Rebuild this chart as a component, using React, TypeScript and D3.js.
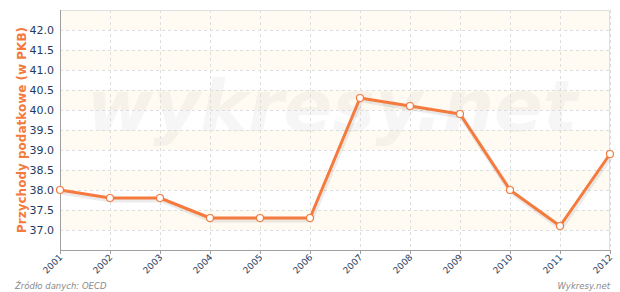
import React from "react";
import * as d3 from "d3";

const years = ["2001","2002","2003","2004","2005","2006","2007","2008","2009","2010","2011","2012"];
const values = [38.0, 37.8, 37.8, 37.3, 37.3, 37.3, 40.3, 40.1, 39.9, 38.0, 37.1, 38.9];
const yTicks = [37.0, 37.5, 38.0, 38.5, 39.0, 39.5, 40.0, 40.5, 41.0, 41.5, 42.0];
const yTitle = "Przychody podatkowe (w PKB)";
const source = "Źródło danych: OECD";
const brand = "Wykresy.net";
const watermark = "wykresy.net";

export default function App() {
  const W = 620, H = 292;
  const left = 60, right = 610, top = 10, bottom = 250;
  const x = d3.scalePoint<string>().domain(years).range([left, right]);
  const y = d3.scaleLinear().domain([36.5, 42.5]).range([bottom, top]);
  const line = d3.line<number>().x((_, i) => x(years[i])!).y((v) => y(v));
  const bands: [number, number][] = [];
  const bandEdges = [36.5, ...yTicks, 42.5];
  for (let i = 0; i < bandEdges.length - 1; i++) {
    const lo = bandEdges[i], hi = bandEdges[i + 1];
    const idx = Math.round((lo - 37.0) * 2);
    if (lo >= 37.0 && idx % 2 === 0) bands.push([lo, hi]);
  }
  const font = "'DejaVu Sans', Verdana, sans-serif";
  return (
    <svg width={W} height={H} style={{ position: "absolute", left: 0, top: 0 }} fontFamily={font}>
      <rect x={0} y={0} width={W} height={H} fill="#fff" />
      {bands.map(([lo, hi], i) => (
        <rect key={i} x={left} y={y(hi)} width={right - left} height={y(lo) - y(hi)} fill="#fffbf2" />
      ))}
      <text x={332} y={131} textAnchor="middle" fontSize={72} fontWeight="bold" fontStyle="italic" fill="#000" opacity={0.03}>{watermark}</text>
      {yTicks.map((t) => (
        <line key={t} x1={left} x2={right} y1={y(t) + 0.5} y2={y(t) + 0.5} stroke="#dedede" strokeDasharray="3,3" />
      ))}
      {years.map((yr) => (
        <line key={yr} x1={x(yr)! + 0.5} x2={x(yr)! + 0.5} y1={top} y2={bottom} stroke="#dedede" strokeDasharray="3,3" />
      ))}
      <line x1={left} x2={right} y1={top + 0.5} y2={top + 0.5} stroke="#e0e0e0" />
      <line x1={right - 0.5} x2={right - 0.5} y1={top} y2={bottom} stroke="#e0e0e0" />
      <line x1={left + 0.5} x2={left + 0.5} y1={top} y2={bottom} stroke="#a0a0a0" />
      <line x1={left} x2={right} y1={bottom + 0.5} y2={bottom + 0.5} stroke="#a0a0a0" />
      {years.map((yr) => (
        <line key={"t" + yr} x1={x(yr)! + 0.5} x2={x(yr)! + 0.5} y1={bottom} y2={bottom + 4} stroke="#a0a0a0" />
      ))}
      {yTicks.map((t) => (
        <text key={"l" + t} x={left - 6} y={y(t) + 4} textAnchor="end" fontSize={11} fill="#1f3a60">{t.toFixed(1)}</text>
      ))}
      {years.map((yr) => (
        <text key={"x" + yr} transform={`translate(${x(yr)! + 3},${bottom + 8}) rotate(-45)`} textAnchor="end" fontSize={9} fill="#1f3a60">{yr}</text>
      ))}
      <text transform={`translate(26,130) rotate(-90)`} textAnchor="middle" fontSize={12} fontWeight="bold" fill="#f47a3e">{yTitle}</text>
      <path d={line(values)!} fill="none" stroke="#000" strokeOpacity={0.08} strokeWidth={5} transform="translate(1,2)" />
      <path d={line(values)!} fill="none" stroke="#f47a3e" strokeWidth={3} strokeLinejoin="round" />
      {values.map((v, i) => (
        <circle key={i} cx={x(years[i])} cy={y(v)} r={3.5} fill="#fff" stroke="#f47a3e" strokeWidth={1.2} />
      ))}
      <text x={15} y={289} fontSize={8.5} fontStyle="italic" fill="#8a8a8a">{source}</text>
      <text x={610} y={289} textAnchor="end" fontSize={8.5} fontStyle="italic" fill="#8a8a8a">{brand}</text>
    </svg>
  );
}
